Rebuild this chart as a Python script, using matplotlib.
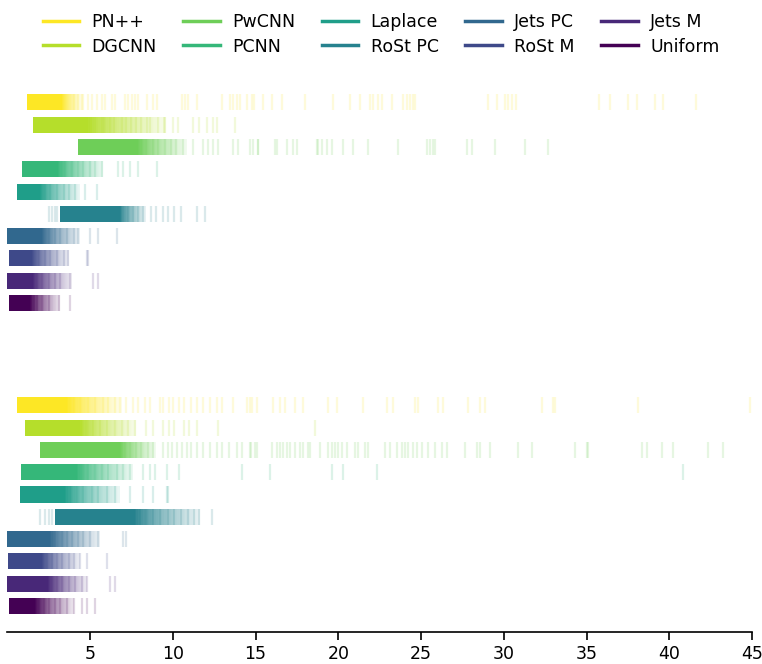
import numpy as np
import matplotlib
matplotlib.use("Agg")
import matplotlib.pyplot as plt
from matplotlib.lines import Line2D

# methods, top to bottom
methods = ["PN++", "DGCNN", "PwCNN", "PCNN", "Laplace",
           "RoSt PC", "Jets PC", "RoSt M", "Jets M", "Uniform"]

# upper panel: saturated core [lo, hi], fading part up to fade_hi, single events
top_core_lo = [1.2, 1.57, 4.29, 0.87, 0.57, 3.18, 0.0, 0.1, 0.0, 0.12]
top_core_hi = [3.3, 4.88, 7.9, 3.07, 1.98, 6.8, 2.1, 1.5, 1.55, 1.37]
top_fade_hi = [4.5, 9.6, 10.85, 5.8, 4.4, 8.4, 4.4, 3.7, 3.9, 3.2]
top_events = [
    [4.03, 4.27, 4.51, 4.55, 4.87, 5.12, 5.42, 5.72, 5.9, 6.33, 6.51, 7.11, 7.29, 7.53,
     7.71, 7.9, 8.44, 8.8, 9.05, 10.55, 10.74, 10.92, 11.46, 12.97, 13.46, 13.64, 13.88,
     14.06, 14.48, 14.79, 14.88, 15.47, 15.97, 16.58, 17.99, 19.7, 20.7, 21.31, 21.91,
     22.11, 22.41, 22.62, 23.22, 23.93, 24.13, 24.33, 24.53, 24.63, 29.06, 29.57, 30.07,
     30.28, 30.48, 30.74, 35.77, 36.42, 37.52, 38.03, 39.14, 39.64, 41.61],
    [5.05, 5.3, 5.7, 5.85, 6.2, 6.45, 6.9, 7.15, 7.5, 7.8, 8.05, 8.45, 8.6, 9.1, 9.45,
     9.55, 10.0, 10.3, 11.2, 11.6, 12.05, 12.4, 12.7, 13.76],
    [8.1, 8.4, 8.8, 9.1, 9.5, 9.9, 10.2, 10.6, 11.24, 11.85, 12.14, 12.45, 12.75, 13.64,
     13.94, 14.66, 15.15, 14.86, 15.17, 16.17, 16.28, 16.88, 17.28, 17.49, 18.7, 18.79,
     19.0, 19.3, 19.6, 20.3, 20.9, 21.81, 23.62, 25.34, 25.54, 25.74, 25.84, 27.76, 28.06,
     29.47, 31.28, 32.69],
    [3.5, 3.9, 4.3, 4.6, 5.0, 5.3, 5.7, 6.7, 7.0, 7.4, 7.9, 9.05],
    [2.3, 2.6, 3.0, 3.4, 3.7, 4.1, 4.7, 5.4],
    [2.52, 2.7, 2.9, 3.0, 7.3, 7.6, 7.9, 8.2, 8.7, 9.0, 9.4, 9.7, 10.1, 10.5, 11.45, 11.95],
    [2.5, 2.9, 3.2, 3.6, 4.0, 4.3, 5.0, 5.5, 6.6],
    [1.9, 2.3, 2.6, 3.0, 3.4, 3.65, 4.8, 4.9],
    [1.8, 2.1, 2.5, 2.9, 3.2, 3.8, 5.2, 5.5],
    [1.6, 1.8, 2.1, 2.5, 3.1, 3.8],
]

# lower panel
bot_core_lo = [0.57, 1.07, 1.98, 0.81, 0.77, 2.88, 0.0, 0.06, 0.0, 0.1]
bot_core_hi = [3.6, 4.4, 6.8, 4.2, 3.49, 7.7, 2.58, 2.1, 2.46, 1.67]
bot_fade_hi = [6.9, 7.8, 9.0, 7.6, 6.8, 11.64, 5.6, 4.4, 4.8, 4.0]
bot_events = [
    [4.0, 4.4, 4.9, 5.3, 5.8, 6.1, 6.5, 6.8, 7.2, 7.6, 7.9, 8.3, 8.6, 9.2, 9.4, 9.8, 10.0,
     10.4, 10.7, 11.1, 11.45, 11.85, 12.25, 12.65, 12.96, 13.64, 14.48, 14.66, 14.77,
     15.07, 16.07, 16.48, 16.78, 17.38, 17.89, 19.4, 19.9, 21.5, 22.92, 23.32, 24.63,
     24.83, 26.04, 26.34, 27.85, 28.56, 28.86, 32.29, 32.99, 33.09, 38.13, 44.88],
    [4.8, 5.2, 5.6, 6.0, 6.5, 6.9, 7.3, 7.7, 8.4, 8.8, 9.4, 9.8, 10.1, 10.7, 11.0, 11.45,
     12.75, 18.59],
    [7.1, 7.4, 7.8, 8.1, 8.5, 8.8, 9.4, 9.7, 9.95, 10.25, 10.55, 10.85, 11.1, 11.45, 11.8,
     12.25, 12.65, 13.0, 13.4, 13.9, 14.2, 14.66, 14.72, 14.96, 15.1, 15.98, 16.28, 16.48,
     16.68, 16.88, 17.08, 17.38, 17.69, 17.89, 18.19, 18.29, 18.89, 19.4, 19.6, 19.8, 20.0,
     20.2, 20.51, 21.01, 21.21, 21.61, 21.81, 22.82, 23.12, 23.53, 23.83, 24.03, 24.23,
     24.53, 24.74, 25.04, 25.44, 25.84, 26.25, 26.55, 27.66, 28.36, 28.56, 29.17, 30.88,
     31.69, 34.3, 35.01, 35.11, 38.33, 38.63, 39.54, 40.24, 42.36, 43.26],
    [4.5, 4.9, 5.3, 5.7, 6.1, 6.6, 7.0, 7.4, 8.2, 8.6, 8.9, 9.65, 10.4, 14.18, 15.87, 19.6,
     20.3, 22.32, 40.85],
    [3.8, 4.2, 4.6, 5.1, 5.5, 6.0, 6.5, 7.4, 8.2, 8.8, 9.65, 9.7],
    [1.98, 2.3, 2.5, 2.7, 8.0, 8.4, 8.8, 9.2, 9.7, 10.1, 10.5, 10.9, 11.3, 11.6, 12.37],
    [2.9, 3.3, 3.6, 3.9, 4.3, 4.6, 5.0, 5.5, 7.0, 7.2],
    [2.4, 2.7, 3.0, 3.3, 3.7, 4.0, 4.4, 4.8, 6.0],
    [2.7, 3.0, 3.3, 3.7, 4.1, 4.5, 4.8, 6.2, 6.5],
    [1.9, 2.2, 2.5, 2.9, 3.2, 3.6, 4.0, 4.5, 4.8, 5.3],
]

colors = plt.cm.viridis(np.linspace(1, 0, len(methods)))
FS = 12.5
H = 0.72  # strip height in row units


def draw_panel(ax, core_lo, core_hi, fade_hi, events):
    for i in range(len(methods)):
        y = i + 1
        c = colors[i]
        ax.barh(y, core_hi[i] - core_lo[i], left=core_lo[i], height=H,
                color=c, linewidth=0)
        # fading tail of the dense block
        edges = np.linspace(core_hi[i], fade_hi[i], 41)
        for k in range(40):
            a = 1.0 - 0.92 * ((k + 0.5) / 40) ** 0.8
            ax.barh(y, edges[k + 1] - edges[k], left=edges[k], height=H,
                    color=c, alpha=a, linewidth=0, antialiased=False)
        ax.vlines(events[i], y - H / 2, y + H / 2, color=c, alpha=0.17, linewidth=1.6)
    ax.set_xlim(0, 45)
    ax.set_ylim(11.17, 0.4)
    ax.set_yticks([])
    for s in ["top", "right", "left"]:
        ax.spines[s].set_visible(False)


fig = plt.figure(figsize=(7.62, 6.64), dpi=100)
ax_top = fig.add_axes([0.0096, 0.5045, 0.9773, 0.3614])
ax_bot = fig.add_axes([0.0096, 0.0482, 0.9773, 0.3614])

draw_panel(ax_top, top_core_lo, top_core_hi, top_fade_hi, top_events)
draw_panel(ax_bot, bot_core_lo, bot_core_hi, bot_fade_hi, bot_events)

ax_top.spines["bottom"].set_visible(False)
ax_top.set_xticks([])

ax_bot.set_xticks([5, 10, 15, 20, 25, 30, 35, 40, 45])
ax_bot.tick_params(axis="x", labelsize=FS, length=6, width=1.2)
ax_bot.spines["bottom"].set_linewidth(1.2)

handles = [Line2D([0], [0], color=colors[i], lw=2.5) for i in range(len(methods))]
fig.legend(handles, methods, ncol=5, loc="upper center", bbox_to_anchor=(0.5, 1.004),
           frameon=False, fontsize=FS, handlelength=2.1, handletextpad=0.7,
           columnspacing=1.55, labelspacing=0.38)

fig.savefig("out.png", dpi=100)
